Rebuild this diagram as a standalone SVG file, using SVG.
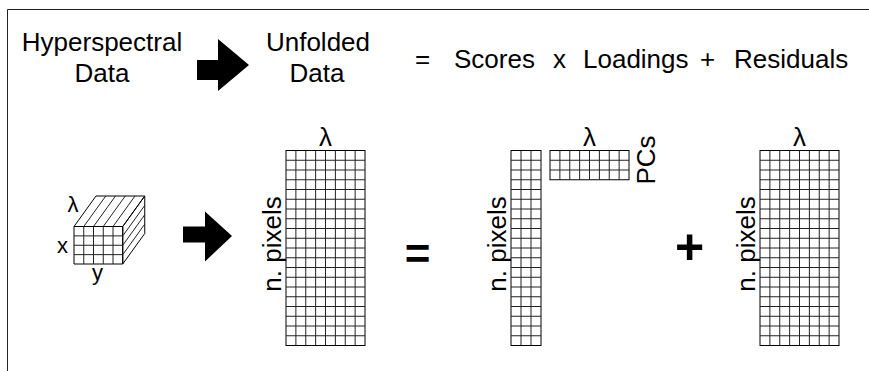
<svg xmlns="http://www.w3.org/2000/svg" width="869" height="371" viewBox="0 0 869 371">
<style>
text{font-family:"Liberation Sans",Arial,Helvetica,sans-serif;fill:#000}
.t{font-size:26px}
.s{font-size:22px}
.c{text-anchor:middle}
.g{fill:#fff;stroke:#000;stroke-width:1}
.gl{fill:none;stroke:#222;stroke-width:1}
.big{font-weight:bold;text-anchor:middle}
</style>
<rect width="869" height="371" fill="#fff"/>
<path d="M7.5 371 V9.5 H869" fill="none" stroke="#222" stroke-width="1"/>

<g id="header">
<text class="t c" x="102" y="51">Hyperspectral</text>
<text class="t c" x="102" y="82">Data</text>
<text class="t c" x="318" y="51">Unfolded</text>
<text class="t c" x="317" y="82">Data</text>
<text class="t" x="415" y="68">=</text>
<text class="t" x="454" y="68">Scores</text>
<text class="t" x="553" y="68">x</text>
<text class="t" x="583" y="68">Loadings</text>
<text class="t" x="700" y="68">+</text>
<text class="t" x="734" y="68">Residuals</text>
</g>

<g id="connectors">
<path d="M197 60 H218 V39 L249 65 L218 91 V80 H197 Z" fill="#000"/>
<path d="M183 226.5 H205 V211.5 L232 236 L205 261.5 V242.5 H183 Z" fill="#000"/>
</g>

<g id="cube">
<path class="g" d="M74 226.5 H122.75 V264 H74 Z M74 226.5 L96 196 H144.75 L122.75 226.5 Z M122.75 226.5 L144.75 196 V233.5 L122.75 264 Z"/>
<path class="gl" d="M83.75 226.5 V264 M93.5 226.5 V264 M103.25 226.5 V264 M113 226.5 V264 M74 235.875 H122.75 M74 245.25 H122.75 M74 254.625 H122.75 M83.75 226.5 L105.75 196 M93.5 226.5 L115.5 196 M103.25 226.5 L125.25 196 M113 226.5 L135 196 M122.75 235.875 L144.75 205.375 M122.75 245.25 L144.75 214.75 M122.75 254.625 L144.75 224.125"/>
<text class="s c" x="73" y="212">λ</text>
<text class="s c" x="62.5" y="253">x</text>
<text class="s c" x="97.5" y="279.5">y</text>
</g>

<g id="unfolded">
<rect class="g" x="286" y="150.5" width="79" height="195"/>
<path class="gl" d="M295.875 150.5 V345.5 M305.75 150.5 V345.5 M315.625 150.5 V345.5 M325.5 150.5 V345.5 M335.375 150.5 V345.5 M345.25 150.5 V345.5 M355.125 150.5 V345.5 M286 160.25 H365 M286 170 H365 M286 179.75 H365 M286 189.5 H365 M286 199.25 H365 M286 209 H365 M286 218.75 H365 M286 228.5 H365 M286 238.25 H365 M286 248 H365 M286 257.75 H365 M286 267.5 H365 M286 277.25 H365 M286 287 H365 M286 296.75 H365 M286 306.5 H365 M286 316.25 H365 M286 326 H365 M286 335.75 H365"/>
<text class="t c" x="325.5" y="146">λ</text>
<text class="t c" transform="translate(280.5,244) rotate(-90)">n. pixels</text>
</g>

<g id="equals">
<text class="big" x="417.5" y="268.5" font-size="44">=</text>
</g>

<g id="scores">
<rect class="g" x="511" y="150.5" width="30" height="195"/>
<path class="gl" d="M521 150.5 V345.5 M531 150.5 V345.5 M511 160.25 H541 M511 170 H541 M511 179.75 H541 M511 189.5 H541 M511 199.25 H541 M511 209 H541 M511 218.75 H541 M511 228.5 H541 M511 238.25 H541 M511 248 H541 M511 257.75 H541 M511 267.5 H541 M511 277.25 H541 M511 287 H541 M511 296.75 H541 M511 306.5 H541 M511 316.25 H541 M511 326 H541 M511 335.75 H541"/>
<text class="t c" transform="translate(505.5,244) rotate(-90)">n. pixels</text>
</g>

<g id="loadings">
<rect class="g" x="550" y="150.5" width="79" height="29.25"/>
<path class="gl" d="M559.875 150.5 V179.75 M569.75 150.5 V179.75 M579.625 150.5 V179.75 M589.5 150.5 V179.75 M599.375 150.5 V179.75 M609.25 150.5 V179.75 M619.125 150.5 V179.75 M550 160.25 H629 M550 170 H629"/>
<text class="t c" x="589.5" y="146">λ</text>
<text class="t c" transform="translate(655,160) rotate(-90)">PCs</text>
</g>

<g id="plus">
<text class="big" x="689.5" y="264" font-size="50">+</text>
</g>

<g id="residuals">
<rect class="g" x="760" y="150.5" width="79" height="195"/>
<path class="gl" d="M769.875 150.5 V345.5 M779.75 150.5 V345.5 M789.625 150.5 V345.5 M799.5 150.5 V345.5 M809.375 150.5 V345.5 M819.25 150.5 V345.5 M829.125 150.5 V345.5 M760 160.25 H839 M760 170 H839 M760 179.75 H839 M760 189.5 H839 M760 199.25 H839 M760 209 H839 M760 218.75 H839 M760 228.5 H839 M760 238.25 H839 M760 248 H839 M760 257.75 H839 M760 267.5 H839 M760 277.25 H839 M760 287 H839 M760 296.75 H839 M760 306.5 H839 M760 316.25 H839 M760 326 H839 M760 335.75 H839"/>
<text class="t c" x="799.5" y="146">λ</text>
<text class="t c" transform="translate(754.5,244) rotate(-90)">n. pixels</text>
</g>
</svg>
